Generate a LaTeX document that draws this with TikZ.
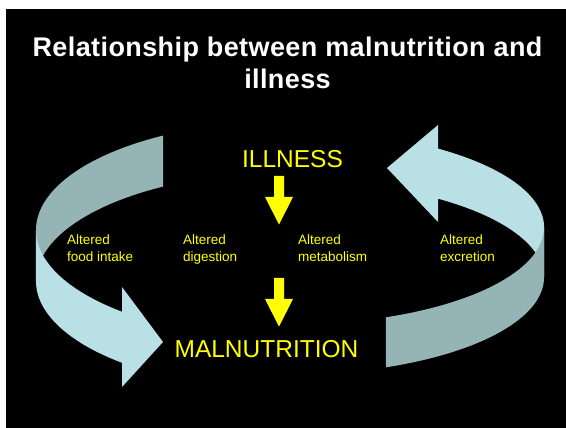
\documentclass[tikz,border=0pt]{standalone}
\usepackage{fontspec}
\setmainfont{Liberation Sans}
\newfontfamily\headfont[LetterSpace=1.5]{Liberation Sans}
\definecolor{backband}{RGB}{148,180,181}
\definecolor{frontband}{RGB}{185,224,228}
\definecolor{hiyellow}{RGB}{255,255,0}

\begin{document}
\begin{tikzpicture}[x=1pt,y=1pt,
  heading/.style={text=white,font=\headfont\bfseries\fontsize{27}{32.3}\selectfont,align=center,inner sep=0},
  state/.style={text=hiyellow,font=\fontsize{24.5}{29}\selectfont,inner sep=0,anchor=base},
  cause/.style={text=hiyellow,font=\fontsize{13.5}{16.5}\selectfont,align=left,inner sep=0,anchor=north west}]
%%%%%slide starts here
\fill[white] (0,0) rectangle (566,428);
\fill[black] (6,0) rectangle (566,419);
\useasboundingbox (0,0) rectangle (566,428);

\def\cx{290}
\def\ra{254}
\def\bl{109}
\def\br{97}

\node[heading,anchor=north] (title) at (287.5,391.4) {Relationship between malnutrition and\\illness};

%%%%%left band, back then front
\fill[backband] (163,292.4) arc[start angle=120,end angle=180,x radius=\ra,y radius=\bl]
  -- (36,147) arc[start angle=180,end angle=120,x radius=\ra,y radius=\bl] -- cycle;
\fill[frontband] (36,198) arc[start angle=180,end angle=228.6,x radius=\ra,y radius=\bl]
  -- (122,141) -- (163,86) -- (122,41) -- (122,65.2)
  arc[start angle=228.6,end angle=180,x radius=\ra,y radius=\bl] -- cycle;

%%%%%right band, back then front
\fill[frontband] (438,229.4) -- (438,206) -- (387,260) -- (438,303) -- (438,279.4)
  arc[start angle=54.4,end angle=0,x radius=\ra,y radius=\br]
  -- (544,150.5) arc[start angle=0,end angle=54.4,x radius=\ra,y radius=\br] -- cycle;
\fill[backband] (544,200.5) arc[start angle=0,end angle=-67.8,x radius=\ra,y radius=\br]
  -- (386,60.7) arc[start angle=-67.8,end angle=0,x radius=\ra,y radius=\br] -- cycle;

\node[state] (illness) at (292.5,260.7) {ILLNESS};
\node[state] (malnutrition) at (266.5,70) {MALNUTRITION};

\foreach \yt in {252,150}
  \fill[hiyellow] (274,\yt) -- (274,\yt-21) -- (265,\yt-21) -- (279,\yt-48.5)
    -- (293,\yt-21) -- (284,\yt-21) -- (284,\yt) -- cycle;

\foreach \x/\name/\txt in {67/intake/food intake,183/digestion/digestion,298/metabolism/metabolism,440/excretion/excretion}
  \node[cause] (\name) at (\x,193) {Altered\\\txt};
%%%%%slide ends here
\end{tikzpicture}
\end{document}
